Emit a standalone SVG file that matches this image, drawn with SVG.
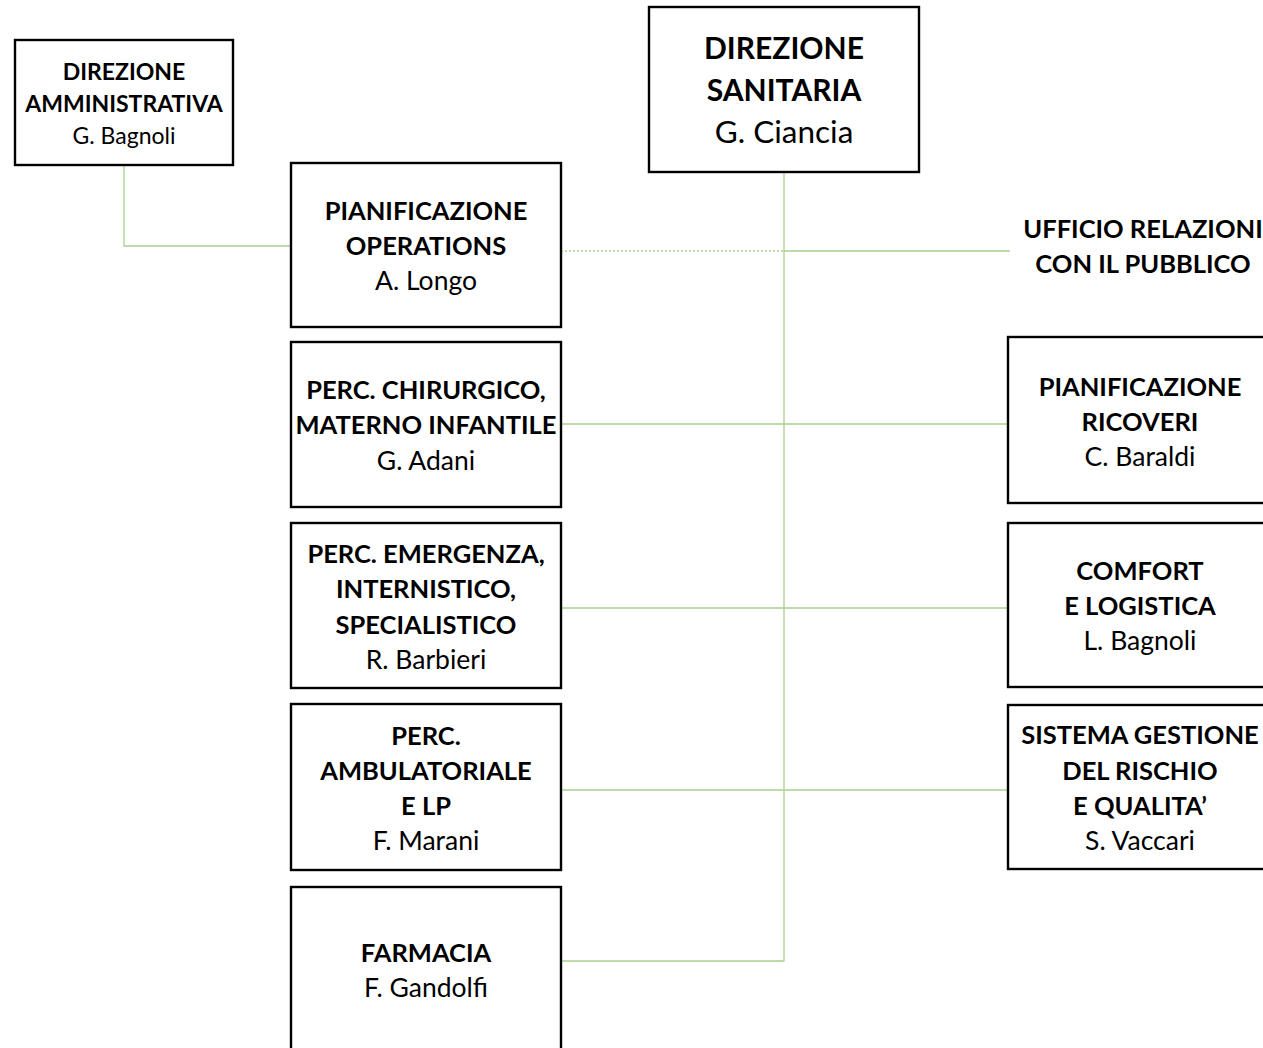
<svg xmlns="http://www.w3.org/2000/svg" width="1263" height="1048" viewBox="0 0 1263 1048">
<style>
.box{fill:#fff;stroke:#000;stroke-width:2.4}
.t{font-family:Lato,"Liberation Sans",sans-serif;font-size:26.5px;text-anchor:middle;fill:#000}
.b{font-weight:bold;font-size:25.5px}
.sm{font-size:23px}
.lg{font-size:31.5px}
.lg.b{font-size:30px}
.c{fill:none;stroke:#A9D18E;stroke-width:1.3}
.d{stroke-dasharray:2 2}
</style>
<rect width="1263" height="1048" fill="#fff"/>
<g id="connectors">
<path class="c" d="M124 165V246H291"/>
<path class="c d" d="M561 251H784"/>
<path class="c" d="M784 251H1010"/>
<path class="c" d="M784 172V961H561"/>
<path class="c" d="M561 424H1008"/>
<path class="c" d="M561 608H1008"/>
<path class="c" d="M561 790H1008"/>
</g>
<g id="dir-amm">
<rect class="box" x="15" y="40" width="218" height="125"/>
<text class="t sm b" x="124" y="80">DIREZIONE</text>
<text class="t sm b" x="124" y="112">AMMINISTRATIVA</text>
<text class="t sm" x="124" y="144">G. Bagnoli</text>
</g>
<g id="dir-san">
<rect class="box" x="649" y="7" width="270" height="165"/>
<text class="t lg b" x="784" y="59">DIREZIONE</text>
<text class="t lg b" x="784" y="101">SANITARIA</text>
<text class="t lg" x="784" y="143">G. Ciancia</text>
</g>
<g id="pian-op">
<rect class="box" x="291" y="163" width="270" height="164"/>
<text class="t b" x="426" y="220">PIANIFICAZIONE</text>
<text class="t b" x="426" y="255">OPERATIONS</text>
<text class="t" x="426" y="290">A. Longo</text>
</g>
<g id="perc-chir">
<rect class="box" x="291" y="342" width="270" height="165"/>
<text class="t b" x="426" y="399">PERC. CHIRURGICO,</text>
<text class="t b" x="426" y="434">MATERNO INFANTILE</text>
<text class="t" x="426" y="470">G. Adani</text>
</g>
<g id="perc-emer">
<rect class="box" x="291" y="523" width="270" height="165"/>
<text class="t b" x="426" y="563">PERC. EMERGENZA,</text>
<text class="t b" x="426" y="598">INTERNISTICO,</text>
<text class="t b" x="426" y="634">SPECIALISTICO</text>
<text class="t" x="426" y="669">R. Barbieri</text>
</g>
<g id="perc-amb">
<rect class="box" x="291" y="704" width="270" height="166"/>
<text class="t b" x="426" y="745">PERC.</text>
<text class="t b" x="426" y="780">AMBULATORIALE</text>
<text class="t b" x="426" y="815">E LP</text>
<text class="t" x="426" y="850">F. Marani</text>
</g>
<g id="farmacia">
<rect class="box" x="291" y="887" width="270" height="175"/>
<text class="t b" x="426" y="962">FARMACIA</text>
<text class="t" x="426" y="997">F. Gandolfi</text>
</g>
<g id="urp">
<text class="t b" x="1143" y="238">UFFICIO RELAZIONI</text>
<text class="t b" x="1143" y="273">CON IL PUBBLICO</text>
</g>
<g id="pian-ric">
<rect class="box" x="1008" y="337" width="260" height="166"/>
<text class="t b" x="1140" y="396">PIANIFICAZIONE</text>
<text class="t b" x="1140" y="431">RICOVERI</text>
<text class="t" x="1140" y="466">C. Baraldi</text>
</g>
<g id="comfort">
<rect class="box" x="1008" y="523" width="260" height="164"/>
<text class="t b" x="1140" y="580">COMFORT</text>
<text class="t b" x="1140" y="615">E LOGISTICA</text>
<text class="t" x="1140" y="650">L. Bagnoli</text>
</g>
<g id="sistema">
<rect class="box" x="1008" y="705" width="260" height="164"/>
<text class="t b" x="1140" y="744">SISTEMA GESTIONE</text>
<text class="t b" x="1140" y="780">DEL RISCHIO</text>
<text class="t b" x="1140" y="815">E QUALITA’</text>
<text class="t" x="1140" y="850">S. Vaccari</text>
</g>
</svg>
